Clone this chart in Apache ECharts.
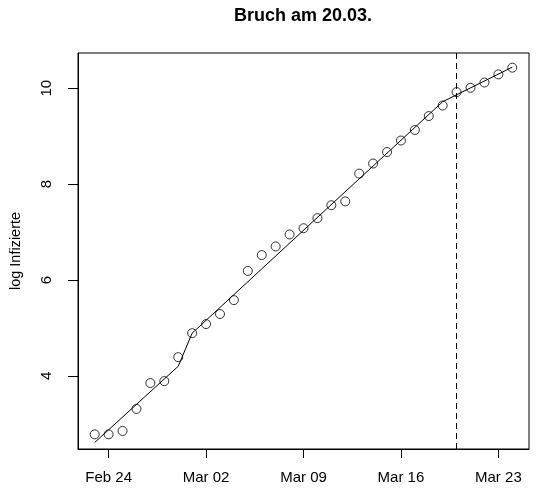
<!DOCTYPE html>
<html>
<head>
<meta charset="utf-8">
<script src="https://cdn.jsdelivr.net/npm/echarts@6/dist/echarts.min.js"></script>
<style>
html,body{margin:0;padding:0;background:#fff;}
#chart{width:552px;height:493px;}
</style>
</head>
<body>
<div id="chart"></div>
<script>
// ---- data ----
const dates = ['2020-02-23','2020-02-24','2020-02-25','2020-02-26','2020-02-27','2020-02-28','2020-02-29',
  '2020-03-01','2020-03-02','2020-03-03','2020-03-04','2020-03-05','2020-03-06','2020-03-07','2020-03-08',
  '2020-03-09','2020-03-10','2020-03-11','2020-03-12','2020-03-13','2020-03-14','2020-03-15','2020-03-16',
  '2020-03-17','2020-03-18','2020-03-19','2020-03-20','2020-03-21','2020-03-22','2020-03-23','2020-03-24'];
const logInfected = [2.78,2.78,2.85,3.31,3.85,3.89,4.39,
  4.89,5.08,5.29,5.58,6.19,6.52,6.70,6.95,
  7.08,7.29,7.56,7.64,8.22,8.43,8.67,8.91,
  9.13,9.42,9.64,9.92,10.01,10.12,10.29,10.43];
const fitDates = ['2020-02-23','2020-02-29','2020-03-01','2020-03-19','2020-03-24'];
const fitValues = [2.61,4.20,4.89,9.72,10.44];
const breakDate = '2020-03-20';
const xTickDates = ['2020-02-24','2020-03-02','2020-03-09','2020-03-16','2020-03-23'];
const xTickLabels = ['Feb 24','Mar 02','Mar 09','Mar 16','Mar 23'];
const yTicks = [4,6,8,10];
const titleText = 'Bruch am 20.03.';

// ---- helpers ----
const origin = Date.parse('2020-02-24T00:00:00Z');
const day = s => Math.round((Date.parse(s + 'T00:00:00Z') - origin) / 86400000);
const xs = dates.map(day);
const xMinD = Math.min(...xs), xMaxD = Math.max(...xs);
const yMinD = Math.min(...logInfected), yMaxD = Math.max(...logInfected);
const xPad = 0.04 * (xMaxD - xMinD), yPad = 0.04 * (yMaxD - yMinD);
const tickPos = xTickDates.map(day);
const FONT = 'Liberation Sans, Arial, Helvetica, sans-serif';

const chart = echarts.init(document.getElementById('chart'));
chart.setOption({
  animation: false,
  backgroundColor: '#fff',
  graphic: [{
    type: 'text', x: 303, y: 16, silent: true,
    style: {text: titleText, align: 'center', verticalAlign: 'middle',
      font: 'bold 18px ' + FONT, fill: '#000'}
  }],
  grid: {left: 77, right: 23, top: 53, bottom: 44, show: true, borderColor: '#000', borderWidth: 1},
  xAxis: {
    type: 'value', min: xMinD - xPad, max: xMaxD + xPad,
    splitLine: {show: false},
    axisLine: {show: true, onZero: false, lineStyle: {color: '#000', width: 1}},
    axisTick: {show: true, length: 9, lineStyle: {color: '#000'}, customValues: tickPos},
    axisLabel: {
      customValues: tickPos, margin: 21, fontSize: 15, color: '#000', fontFamily: FONT,
      formatter: v => xTickLabels[tickPos.indexOf(Math.round(v))] || ''
    }
  },
  yAxis: {
    type: 'value', min: yMinD - yPad, max: yMaxD + yPad,
    name: 'log Infizierte', nameLocation: 'middle', nameGap: 55, nameRotate: 90,
    nameTextStyle: {fontFamily: FONT, fontSize: 14.5, color: '#000'},
    splitLine: {show: false},
    axisLine: {show: true, onZero: false, lineStyle: {color: '#000', width: 1}},
    axisTick: {show: true, length: 10, lineStyle: {color: '#000'}, customValues: yTicks},
    axisLabel: {customValues: yTicks, rotate: 90, margin: 24, fontSize: 15, color: '#000', fontFamily: FONT,
      align: 'center', verticalAlign: 'bottom'}
  },
  series: [
    {
      type: 'line', data: fitDates.map((d, i) => [day(d), fitValues[i]]),
      showSymbol: false, symbol: 'none', lineStyle: {color: '#000', width: 1}, z: 2,
      markLine: {
        silent: true, symbol: 'none', label: {show: false},
        lineStyle: {color: '#000', width: 1, type: [6, 4]},
        data: [{xAxis: day(breakDate)}]
      }
    },
    {
      type: 'scatter', data: xs.map((x, i) => [x, logInfected[i]]),
      symbol: 'circle', symbolSize: 9,
      itemStyle: {color: 'rgba(0,0,0,0)', borderColor: '#000', borderWidth: 1}, z: 3
    }
  ]
});
</script>
</body>
</html>
